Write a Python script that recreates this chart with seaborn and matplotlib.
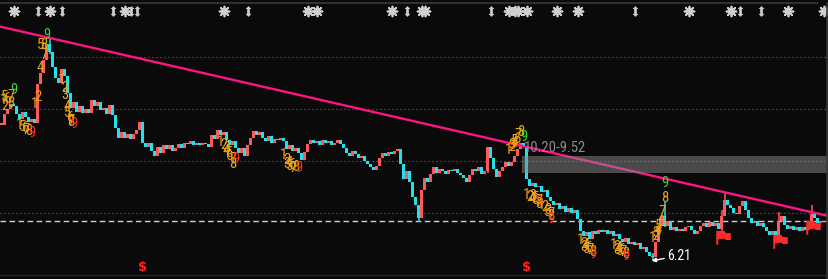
import numpy as np
import pandas as pd
import matplotlib
matplotlib.use("Agg")
import matplotlib.pyplot as plt
import seaborn as sns
from matplotlib import font_manager as fm
from matplotlib.path import Path
from matplotlib.lines import Line2D

# ---------------- data ----------------
closes = [
    11.40, 11.80, 12.00, 12.20, 12.10, 11.80, 11.60, 11.90, 11.70, 11.50,
    11.60, 11.45, 12.95, 13.40, 13.90, 14.50, 14.20, 13.60, 13.20, 13.00,
    13.55, 13.25, 12.60, 12.05, 12.25, 11.90, 12.10, 11.85, 12.00, 11.85,
    12.35, 12.10, 12.25, 11.95, 12.05, 11.80, 12.15, 11.75, 11.25, 10.90,
    11.10, 10.90, 11.05, 10.85, 11.05, 11.20, 11.50, 10.70, 10.55, 10.70,
    10.40, 10.20, 10.55, 10.30, 10.60, 10.45, 10.60, 10.40, 10.50, 10.65,
    10.50, 10.70, 10.65, 10.75, 10.60, 10.70, 10.60, 10.70, 10.65, 10.55,
    11.00, 10.85, 11.20, 11.00, 11.10, 10.80, 10.60, 10.75, 10.50, 10.30,
    10.50, 10.20, 10.60, 10.90, 11.15, 11.00, 11.10, 10.90, 10.75, 10.95,
    10.70, 10.85, 10.80, 10.90, 10.75, 10.45, 10.60, 10.40, 10.50, 10.30,
    10.05, 10.35, 10.65, 10.80, 10.70, 10.75, 10.60, 10.80, 10.70, 10.75,
    10.60, 10.70, 10.80, 10.65, 10.50, 10.30, 10.20, 10.40, 10.25, 10.10,
    10.20, 10.00, 9.90, 9.75, 9.65, 9.80, 10.10, 10.30, 10.20, 10.35,
    10.25, 10.40, 10.45, 9.90, 9.30, 9.60, 9.20, 8.60, 8.30, 7.80,
    8.90, 9.35, 9.20, 9.50, 9.75, 9.55, 9.70, 9.60, 9.50, 9.65,
    9.60, 9.70, 9.55, 9.45, 9.35, 9.20, 9.45, 9.70, 9.60, 9.75,
    9.50, 9.60, 10.55, 10.10, 9.70, 9.40, 9.60, 9.75, 9.95, 9.80,
    9.95, 10.20, 10.45, 10.70, 10.55, 9.30, 9.05, 9.15, 9.00, 9.05,
    8.80, 8.90, 8.60, 8.45, 8.30, 8.40, 8.15, 8.25, 8.05, 8.20,
    8.00, 8.10, 7.75, 7.30, 7.10, 7.25, 7.00, 7.30, 7.20, 7.35,
    7.25, 7.35, 7.20, 7.30, 7.10, 7.20, 7.00, 6.90, 7.05, 6.80,
    6.90, 6.75, 6.85, 6.60, 6.70, 6.50, 6.35, 6.30, 6.90, 7.50,
    7.90, 7.50, 7.70, 7.35, 7.45, 7.30, 7.40, 7.30, 7.45, 7.50,
    7.35, 7.20, 7.30, 7.50, 7.60, 7.45, 7.65, 7.50, 7.60, 7.40,
    7.90, 8.50, 8.30, 8.20, 8.00, 7.95, 8.25, 8.45, 8.10, 7.80,
    7.60, 7.70, 7.50, 7.60, 7.45, 7.30, 7.15, 7.30, 7.05, 7.70,
    7.90, 7.55, 7.40, 7.50, 7.35, 7.45, 7.30, 7.45, 7.35, 7.40,
    7.95, 7.80, 7.60, 7.70, 7.65,
]
wick_idx = [16, 139, 162, 217, 221, 240, 241, 259, 270]
wick_low = [14.10, 7.65, 9.55, 6.21, 7.45, 7.08, 8.30, 7.05, 7.40]
wick_high = [14.75, 8.30, 10.55, 6.45, 8.42, 8.10, 8.77, 8.05, 8.31]

trend_idx = [-0.5, 275.8]
trend_price = [15.17, 7.88]

zone_start = 174
zone_low, zone_high = 9.52, 10.20
zone_label = "10.20-9.52"
last_price = 7.69
low_idx, low_price, low_label = 217, 6.21, "6.21"
grid_levels = [8, 10, 12, 14]

sun_idx = [4, 16, 41, 74, 102, 105, 130, 140, 141, 169, 171, 172, 175,
           185, 192, 229, 243, 262, 274]
arrow_idx = [12, 20, 37, 43, 45, 82, 135, 163, 211, 246, 253]
dollar_idx = [47, 175]
flag_idx = [240, 259, 270]
flag_price = [7.08, 6.92, 7.46]

td_idx = [0.7, 1, 1, 2, 3, 3, 4,
          6, 7, 8, 8, 9, 10,
          11, 12, 13, 13, 14, 14, 15,
          20, 21, 21, 22, 22, 23, 23, 23, 24,
          73, 74, 75, 75, 76, 76, 77, 77, 78,
          94, 95, 95, 96, 96, 97, 97, 98, 99,
          169, 170, 170, 171, 171, 172, 172, 173, 174,
          175, 176, 177, 177, 178, 178, 179, 179, 179,
          180, 181, 182, 182, 183, 183, 183,
          193, 194, 194, 195, 195, 196, 196, 197, 197,
          204, 205, 205, 206, 206, 207, 207, 208, 208,
          217, 218, 218, 219, 219, 220, 220, 221, 221]
td_price = [12.35, 12.46, 12.12, 12.38, 12.50, 12.23, 12.73,
            11.38, 11.31, 11.27, 11.20, 11.15, 11.08,
            12.19, 12.46, 13.58, 14.46, 14.08, 14.46, 14.85,
            13.12, 12.81, 12.54, 12.08, 11.85, 11.65, 11.54, 11.50, 11.42,
            10.73, 10.62, 10.50, 10.38, 10.31, 10.19, 10.08, 9.88, 10.08,
            10.23, 10.04, 9.88, 9.92, 9.81, 9.85, 9.73, 9.77, 9.73,
            10.42, 10.54, 10.62, 10.69, 10.77, 10.85, 11.00, 11.12, 10.92,
            8.69, 8.62, 8.65, 8.54, 8.58, 8.50, 8.46, 8.35, 8.42,
            8.31, 8.23, 8.12, 8.04, 7.96, 7.88, 7.77,
            6.96, 6.81, 6.69, 6.77, 6.62, 6.65, 6.58, 6.50, 6.42,
            6.77, 6.69, 6.58, 6.65, 6.54, 6.58, 6.50, 6.42, 6.35,
            7.04, 7.12, 7.23, 7.35, 7.50, 7.65, 8.04, 8.58, 9.15]
td_text = ["1", "5", "2", "6", "7", "8", "9",
           "1", "5", "6", "7", "8", "9",
           "1", "2", "4", "5", "7", "8", "9",
           "1", "2", "3", "4", "5", "6", "7", "8", "9",
           "1", "2", "3", "4", "5", "6", "7", "8", "9",
           "1", "2", "3", "4", "5", "6", "7", "8", "9",
           "1", "2", "3", "4", "5", "6", "7", "8", "9",
           "1", "2", "3", "4", "5", "6", "7", "8", "9",
           "1", "2", "3", "5", "7", "8", "9",
           "1", "2", "3", "4", "5", "6", "7", "8", "9",
           "1", "2", "3", "4", "5", "6", "7", "8", "9",
           "1", "2", "3", "4", "5", "6", "7", "8", "9"]
td_kind = (["o"] * 6 + ["g"] + ["o"] * 5 + ["r"] + ["o"] * 6 + ["g"]
           + ["o"] * 8 + ["r"] + ["o"] * 8 + ["r"] + ["o"] * 8 + ["r"]
           + ["o"] * 8 + ["g"] + ["o"] * 8 + ["r"] + ["o"] * 6 + ["r"]
           + ["o"] * 8 + ["r"] + ["o"] * 8 + ["r"] + ["o"] * 8 + ["g"])

# ---------------- style ----------------
BG = "#0a0a0a"
UP = "#ff5a5a"
DOWN = "#1fe3ec"
PINK = "#ff1487"
ORANGE = "#eea21a"
GREEN = "#3cd83c"
RED9 = "#ff3020"

sns.set_theme(style="dark", rc={"axes.facecolor": BG, "figure.facecolor": BG,
                                "savefig.facecolor": BG})

avail = {f.name for f in fm.fontManager.ttflist}
NARROW = next((n for n in ["Liberation Sans Narrow", "Roboto Condensed",
                           "DejaVu Sans"] if n in avail), "DejaVu Sans")
fscale = 1.0 if NARROW != "DejaVu Sans" else 0.8
plt.rcParams["font.family"] = [NARROW, "DejaVu Sans"]

fig = plt.figure(figsize=(8.29, 2.79), dpi=100)
ax = fig.add_axes([0, 0, 1, 1])
ax.set_facecolor(BG)
n = len(closes)
ax.set_xlim(-0.5, 275.83)
ax.set_ylim(5.4615, 16.1923)
ax.axis("off")

# grid & last price
for g in grid_levels:
    ax.axhline(g, color="#5e5e5e", lw=0.9, ls=(0, (1, 2.2)), zorder=1)
ax.axhline(last_price, color="#cfcfcf", lw=1.0, ls=(0, (4, 2.5)), zorder=1)

# candles
df = pd.DataFrame({"i": np.arange(n), "close": closes})
df["open"] = [closes[0]] + closes[:-1]
df["lo"] = df[["open", "close"]].min(axis=1)
df["hi"] = df[["open", "close"]].max(axis=1)
df["h"] = np.maximum(df["hi"] - df["lo"], 0.05)
df["col"] = np.where(df["close"] >= df["open"], UP, DOWN)
ax.bar(df["i"], df["h"], bottom=df["lo"], width=0.72, color=df["col"],
       linewidth=0, zorder=3)
for wi, wl, wh in zip(wick_idx, wick_low, wick_high):
    ax.vlines(wi, wl, wh, color=df["col"].iloc[wi], lw=1.1, zorder=3)

# trend line
tl = pd.DataFrame({"i": trend_idx, "p": trend_price})
sns.lineplot(data=tl, x="i", y="p", ax=ax, color=PINK, lw=1.7, zorder=4,
             legend=False)

# zone
ax.fill_between([zone_start - 0.5, 276], zone_low, zone_high,
                color="#8a8a8a", alpha=0.5, linewidth=0, zorder=5)
ax.text(zone_start, zone_high + 0.02, zone_label, color="#8c8c8c",
        fontsize=10.5 * fscale, ha="left", va="bottom", zorder=6)

# lowest price annotation
ax.annotate(low_label, xy=(low_idx - 0.3, low_price - 0.05),
            xytext=(low_idx + 5, low_price + 0.15), color="white",
            fontsize=10 * fscale, ha="left", va="center",
            arrowprops=dict(arrowstyle="-|>", color="white", lw=1.0,
                            mutation_scale=6, shrinkA=0, shrinkB=0),
            zorder=7)

# TD labels
kc = {"o": ORANGE, "g": GREEN, "r": RED9}
for ti, tp, tt, tk in zip(td_idx, td_price, td_text, td_kind):
    ax.text(ti, tp, tt, color=kc[tk], fontsize=10.5 * fscale, ha="center",
            va="center", zorder=6)

# top icons
xt = ax.get_xaxis_transform()
icons = pd.DataFrame({"i": sun_idx, "y": 0.961})
sns.scatterplot(data=icons, x="i", y="y", ax=ax, transform=xt,
                marker=(8, 2, 0), s=50, color="#cfcfcf", linewidth=1.3,
                edgecolor="#cfcfcf", zorder=6, legend=False)
sns.scatterplot(data=icons, x="i", y="y", ax=ax, transform=xt,
                marker="s", s=18, color="#cfcfcf", linewidth=0,
                zorder=6, legend=False)
arrow_marker = Path([(0, 1), (0.55, 0.45), (0.25, 0.45), (0.25, -0.45),
                     (0.55, -0.45), (0, -1), (-0.55, -0.45), (-0.25, -0.45),
                     (-0.25, 0.45), (-0.55, 0.45), (0, 1)])
arr = pd.DataFrame({"i": arrow_idx, "y": 0.961})
sns.scatterplot(data=arr, x="i", y="y", ax=ax, transform=xt,
                marker=arrow_marker, s=60, color="#cfcfcf", linewidth=0,
                zorder=6, legend=False)

# bottom $ signs
for di in dollar_idx:
    ax.text(di, 0.043, "$", transform=xt, color="#ff2020", fontsize=9.5,
            fontweight="bold", ha="center", va="center",
            family="DejaVu Sans", zorder=6)

# flags (custom marker)
flag_marker = Path([(-1.0, -1.0), (-0.72, -1.0), (-0.72, -0.25),
                    (0.15, -0.15), (0.3, -0.35), (1.0, -0.35), (1.0, 0.6),
                    (0.3, 0.6), (0.15, 0.9), (-1.0, 0.9), (-1.0, -1.0)])
fl = pd.DataFrame({"i": [f + 0.6 for f in flag_idx], "p": flag_price})
sns.scatterplot(data=fl, x="i", y="p", ax=ax, marker=flag_marker, s=110,
                color="#ff2a2a", linewidth=0, zorder=6, legend=False)

# frame lines
fig.add_artist(Line2D([0, 0.987], [0.988, 0.988], color="#383838", lw=1.2))
fig.add_artist(Line2D([0.9975, 0.9975], [0.0, 0.988], color="#383838", lw=1.2))
fig.add_artist(Line2D([0, 1], [0.014, 0.014], color="#262626", lw=1.0))

fig.savefig("out.png", dpi=100, facecolor=BG)
